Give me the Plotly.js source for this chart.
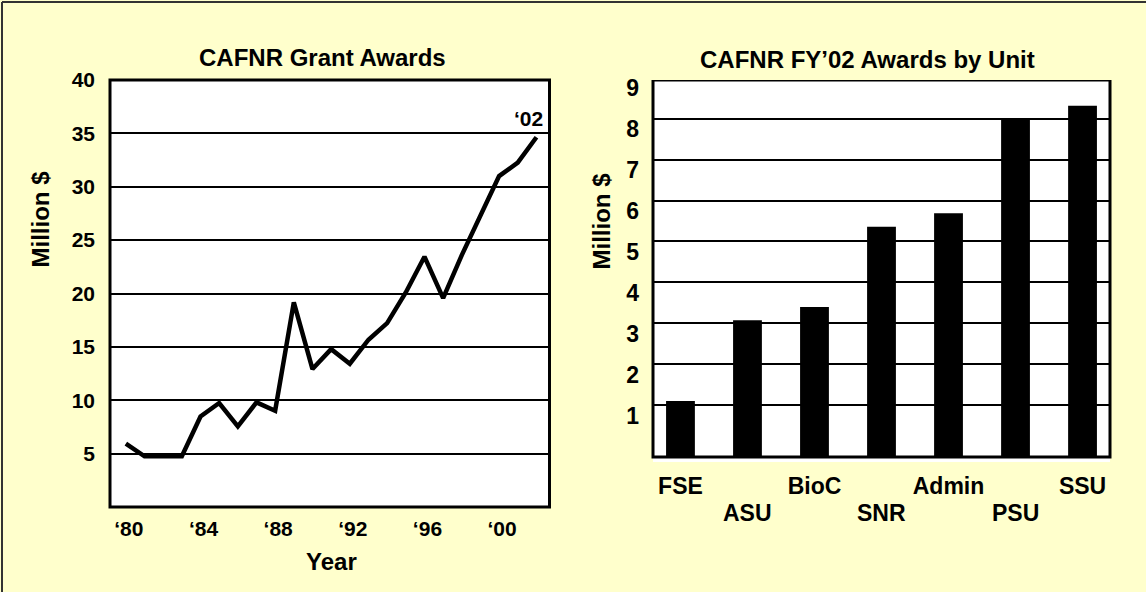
<!DOCTYPE html>
<html>
<head>
<meta charset="utf-8">
<script src="https://cdn.plot.ly/plotly-3.0.1.min.js"></script>
<style>html,body{margin:0;padding:0;background:#FFFFCC;}#chart{width:1146px;height:592px;}</style>
</head>
<body>
<div id="chart"></div>
<script>
// ---- data ----
const years = [1980,1981,1982,1983,1984,1985,1986,1987,1988,1989,1990,1991,1992,1993,1994,1995,1996,1997,1998,1999,2000,2001,2002];
const awards = [5.93,4.75,4.75,4.75,8.48,9.74,7.55,9.8,9.02,19.16,12.92,14.79,13.42,15.67,17.23,20.1,23.45,19.57,23.6,27.4,31.0,32.26,34.64];
const yearTickVals = [1980,1984,1988,1992,1996,2000];
const yearTickText = ['\u201880','\u201884','\u201888','\u201892','\u201896','\u201800'];
const units = ['FSE','ASU','BioC','SNR','Admin','PSU','SSU'];
const unitAwards = [1.37,3.34,3.66,5.62,5.95,8.26,8.57];

const W = 1146, H = 592;
const px = x => x / W;
const py = y => 1 - y / H;
const FONT = 'Liberation Sans, Arial, sans-serif';
const bold = (size) => ({family: FONT, size: size, color: '#000', weight: 'bold'});

// staggered category labels: upper row on the axis, lower row as annotations
const upperUnits = units.filter((u, i) => i % 2 === 0);
const lowerUnits = units.filter((u, i) => i % 2 === 1);

const traces = [
  {type:'scatter', mode:'lines', x: years, y: awards, xaxis:'x', yaxis:'y',
   line:{color:'#000', width:4.5}, hoverinfo:'skip', showlegend:false},
  {type:'bar', x: units, y: unitAwards, xaxis:'x2', yaxis:'y2',
   marker:{color:'#000', line:{width:0}}, width:0.43, hoverinfo:'skip', showlegend:false},
  {type:'scatter', mode:'lines', x: [], y: [], xaxis:'x2', yaxis:'y3', hoverinfo:'skip', showlegend:false}
];

const annotations = [
  {text:'CAFNR Grant Awards', xref:'paper', yref:'paper', x:px(322), y:py(57.5), xanchor:'center', yanchor:'middle', showarrow:false, font: bold(24)},
  {text:'CAFNR FY\u201902 Awards by Unit', xref:'paper', yref:'paper', x:px(867), y:py(59), xanchor:'center', yanchor:'middle', showarrow:false, font: bold(24)},
  {text:'Million $', xref:'paper', yref:'paper', x:px(39.5), y:py(219), xanchor:'center', yanchor:'middle', textangle:-90, showarrow:false, font: bold(24)},
  {text:'Million $', xref:'paper', yref:'paper', x:px(601.5), y:py(221), xanchor:'center', yanchor:'middle', textangle:-90, showarrow:false, font: bold(24)},
  {text:'Year', xref:'paper', yref:'paper', x:px(331), y:py(561), xanchor:'center', yanchor:'middle', showarrow:false, font: bold(24)},
  {text:'\u201802', xref:'x', yref:'y', x: years[years.length-1], y: awards[awards.length-1], xshift:-8, yshift:19, xanchor:'center', yanchor:'middle', showarrow:false, font: bold(21)}
];
lowerUnits.forEach(u => annotations.push(
  {text:u, xref:'x2', yref:'paper', x:u, y:py(513), xanchor:'center', yanchor:'middle', showarrow:false, font: bold(23)}
));

const layout = {
  width: W, height: H,
  paper_bgcolor: '#FFFFCC', plot_bgcolor: '#FFFFFF',
  margin: {l:0, r:0, t:0, b:0},
  showlegend: false,
  xaxis: {domain:[px(110), px(549.5)], anchor:'y', range:[1979.15, 2002.7],
    tickvals: yearTickVals, ticktext: yearTickText, ticks:'', showgrid:false, zeroline:false,
    showline:false, tickfont: bold(21), ticklabelstandoff: 7, ticklabelshift: 3, automargin:false},
  yaxis: {domain:[py(507), py(80)], anchor:'x', range:[0, 40],
    tickvals:[5,10,15,20,25,30,35,40], ticks:'', showgrid:true, gridcolor:'#000', gridwidth:2,
    zeroline:false, showline:false, tickfont: bold(21), ticklabelstandoff: 14, automargin:false},
  xaxis2: {domain:[px(653), px(1110)], anchor:'y2', type:'category', range:[-0.41, 6.41],
    tickvals: upperUnits, ticktext: upperUnits, ticks:'', showgrid:false, zeroline:false, showline:false,
    tickfont: bold(23), ticklabelstandoff: 8, automargin:false},
  yaxis2: {domain:[py(462), py(80)], anchor:'x2', range:[-0.12, 9.2],
    tickvals:[1,2,3,4,5,6,7,8,9], ticks:'', showgrid:false, zeroline:false, showline:false,
    tickfont: bold(23), ticklabelstandoff: 13, automargin:false},
  yaxis3: {overlaying:'y2', anchor:'x2', range:[-0.38, 8.94], tickvals:[1,2,3,4,5,6,7,8],
    showticklabels:false, ticks:'', showgrid:true, gridcolor:'#000', gridwidth:2, zeroline:false,
    showline:false, automargin:false},
  shapes: [
    {type:'rect', xref:'x domain', yref:'y domain', x0:0, x1:1, y0:0, y1:1, line:{color:'#000', width:3}},
    {type:'rect', xref:'x2 domain', yref:'y2', x0:0, x1:1, y0:0, y1:9.2, line:{color:'#000', width:3}},
    {type:'line', xref:'paper', yref:'paper', x0:px(2), x1:px(2), y0:0, y1:py(2), line:{color:'#333', width:2}},
    {type:'line', xref:'paper', yref:'paper', x0:px(2), x1:1, y0:py(2), y1:py(2), line:{color:'#333', width:2}}
  ],
  annotations: annotations
};

Plotly.newPlot('chart', traces, layout, {displayModeBar:false, staticPlot:true});
</script>
</body>
</html>
